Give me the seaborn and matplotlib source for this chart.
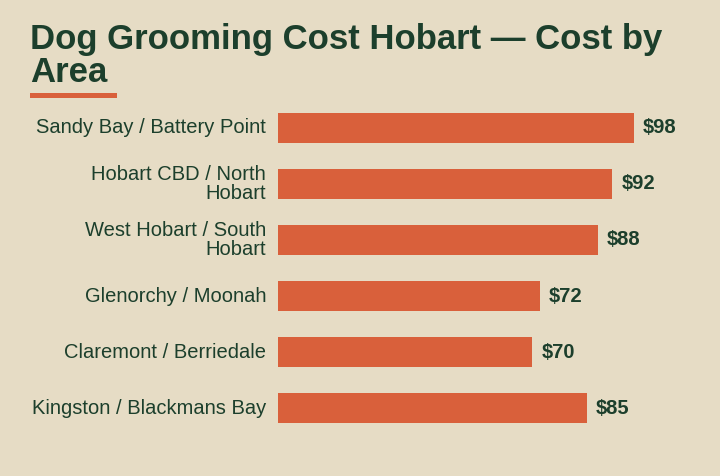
import matplotlib
matplotlib.use("Agg")
import matplotlib.pyplot as plt
import matplotlib.transforms as mtransforms
import seaborn as sns
import pandas as pd

# data
areas = ["Sandy Bay / Battery Point", "Hobart CBD / North\nHobart",
         "West Hobart / South\nHobart", "Glenorchy / Moonah",
         "Claremont / Berriedale", "Kingston / Blackmans Bay"]
costs = [98, 92, 88, 72, 70, 85]
title_lines = ["Dog Grooming Cost Hobart — Cost by", "Area"]

bg = "#E6DCC5"
bar_color = "#D9603B"
ink = "#1C3F2C"

df = pd.DataFrame({"area": areas, "cost": costs})

sns.set_style("white")
plt.rcParams["font.family"] = ["Liberation Sans", "DejaVu Sans"]

fig = plt.figure(figsize=(7.2, 4.76), dpi=100, facecolor=bg)
ax = fig.add_axes([278 / 720, 1 - 436 / 476, (690 - 278) / 720, 336 / 476])
ax.set_facecolor(bg)

sns.barplot(data=df, x="cost", y="area", color=bar_color, width=0.55,
            saturation=1, linewidth=0, ax=ax)

ax.set_xlim(0, 113.4)
ax.set_ylim(5.5, -0.5)
for s in ax.spines.values():
    s.set_visible(False)
ax.set_xticks([])
ax.set_xlabel("")
ax.set_ylabel("")
ax.tick_params(axis="y", length=0, pad=8.5, labelsize=14.5, labelcolor=ink)
nudge = mtransforms.ScaledTranslation(0, 2 / 100, fig.dpi_scale_trans)
for lbl in ax.get_yticklabels():
    lbl.set_linespacing(1.0)
    lbl.set_transform(lbl.get_transform() + nudge)

for i, v in enumerate(costs):
    ax.annotate(f"${v}", (v, i), xytext=(6.5, 0), textcoords="offset points",
                ha="left", va="center", fontsize=14.5, fontweight="bold", color=ink)

# title (two lines, placed on their baselines) with accent underline
for line, base in zip(title_lines, [49.5, 82.5]):
    fig.text(30 / 720, 1 - base / 476, line, ha="left", va="baseline",
             fontsize=25, fontweight="bold", color=ink)
fig.add_artist(plt.Rectangle((30 / 720, 1 - 98 / 476), 87 / 720, 5 / 476,
                             transform=fig.transFigure, color=bar_color, lw=0))

fig.savefig("out.png", dpi=100, facecolor=bg)
